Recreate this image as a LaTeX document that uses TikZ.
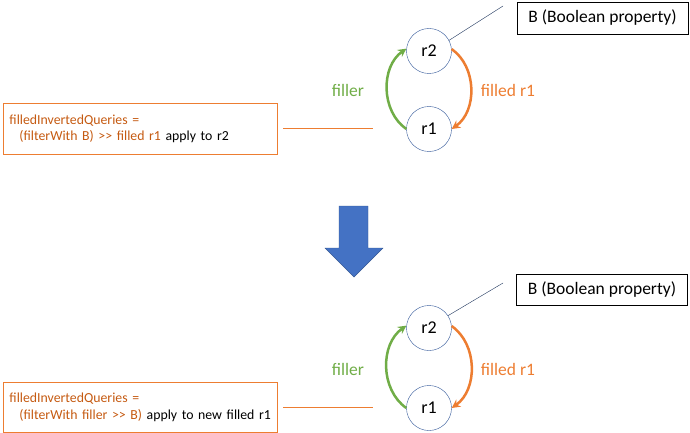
\documentclass[tikz,border=0pt]{standalone}
\usepackage{fontspec}
\setmainfont{Carlito}
\usetikzlibrary{arrows.meta}

\definecolor{qorange}{HTML}{C55A11}
\definecolor{lorange}{HTML}{ED7D31}
\definecolor{lgreen}{HTML}{70AD47}
\definecolor{cblue}{HTML}{2F5597}
\definecolor{ablue}{HTML}{4472C4}

\tikzset{
  res/.style={draw=cblue, circle, minimum size=45pt, inner sep=0pt, font=\fontsize{18}{21}\selectfont},
  propbox/.style={draw=black, line width=0.9pt, minimum width=171pt, minimum height=32pt, inner sep=0pt, font=\fontsize{17.5}{21}\selectfont},
  querybox/.style={draw=lorange, line width=0.9pt, anchor=north west, minimum height=51pt, text width=262pt, inner sep=6pt, align=left, font=\fontsize{13.8}{16.5}\selectfont},
  arc/.style={line width=2.5pt, -{Stealth[length=8.5pt,width=8.5pt]}},
  lbl/.style={font=\fontsize{17.5}{21}\selectfont},
}

\begin{document}
\begin{tikzpicture}[x=1pt, y=-1pt]
  \useasboundingbox (0,0) rectangle (690,433);

  % before
  \node[res] (r2) at (429,51) {r2};
  \node[res] (r1) at (429,129) {r1};
  \node[propbox] (prop) at (602.5,18) {B (Boolean property)};
  \coordinate (pend) at (503,6);
  \draw[cblue!60!black] (r2.28) -- (pend);

  \draw[arc, lgreen] (r1.west) to[bend left=55] (r2.174);
  \draw[arc, lorange] (r2.5) to[bend left=55] (r1.0);
  \node[lbl, text=lgreen] (fill) at (348,90) {filler};
  \node[lbl, text=lorange] (filled) at (508,90) {filled r1};

  \node[querybox] (query) at (3,103) {\textcolor{qorange}{filledInvertedQueries =}\\
    \hspace*{10pt}\textcolor{qorange}{(filterWith B) >\kern0pt> filled r1} apply to r2};
  \coordinate (qa) at (283,128);
  \coordinate (qb) at (373,128);
  \draw[lorange] (qa) -- (qb);

  % step arrow
  \draw[fill=ablue, draw=ablue!75!black] (339,206) -- (368,206) -- (368,248) -- (383,248)
    -- (354,277) -- (325,248) -- (339,248) -- cycle;

  % after
  \node[res] (s2) at (429,328) {r2};
  \node[res] (s1) at (429,408) {r1};
  \node[propbox, minimum height=31pt] (sprop) at (602,289.5) {B (Boolean property)};
  \coordinate (send) at (503,283);
  \draw[cblue!60!black] (s2.33) -- (send);

  \draw[arc, lgreen] (s1.west) to[bend left=55] (s2.174);
  \draw[arc, lorange] (s2.5) to[bend left=55] (s1.0);
  \node[lbl, text=lgreen] (sfill) at (348,369) {filler};
  \node[lbl, text=lorange] (sfilled) at (508,369) {filled r1};

  \node[querybox, minimum height=50pt] (squery) at (3,382) {\textcolor{qorange}{filledInvertedQueries =}\\
    \hspace*{10pt}\textcolor{qorange}{(filterWith filler >\kern0pt> B)} apply to new filled r1};
  \coordinate (sqa) at (283,407);
  \coordinate (sqb) at (373,407);
  \draw[lorange] (sqa) -- (sqb);
\end{tikzpicture}
\end{document}
